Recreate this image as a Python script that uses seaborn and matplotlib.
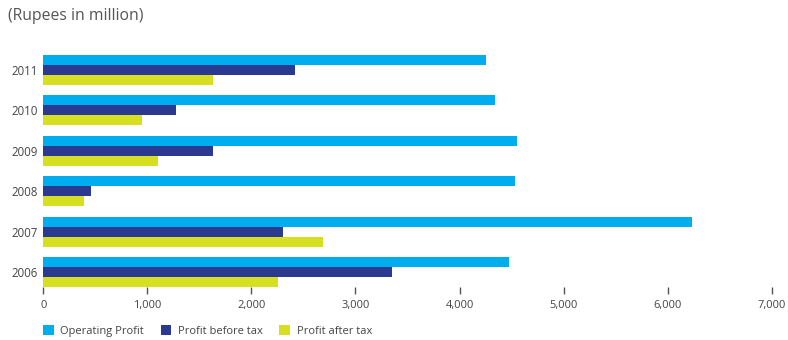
import matplotlib
matplotlib.use("Agg")
import matplotlib.pyplot as plt
from matplotlib.patches import Patch
from matplotlib.ticker import FuncFormatter
import pandas as pd
import seaborn as sns

years = ["2011", "2010", "2009", "2008", "2007", "2006"]
series = ["Operating Profit", "Profit before tax", "Profit after tax"]
operating_profit = [4250, 4345, 4555, 4535, 6230, 4480]
profit_before_tax = [2420, 1275, 1630, 455, 2300, 3350]
profit_after_tax = [1630, 945, 1100, 390, 2685, 2255]
colors = ["#00AEEF", "#2B3990", "#D7DF21"]

df = pd.DataFrame({
    "year": years * 3,
    "series": [s for s in series for _ in years],
    "value": operating_profit + profit_before_tax + profit_after_tax,
})

sns.set_theme(style="white")
plt.rcParams["font.family"] = ["Open Sans", "DejaVu Sans"]

fig = plt.figure(figsize=(7.88, 3.4), dpi=100)
ax = fig.add_axes([0.05495, 0.15588, 0.9244, 0.7119])

sns.barplot(data=df, x="value", y="year", hue="series", order=years,
            hue_order=series, palette=colors, orient="h", width=0.74,
            saturation=1, ax=ax, legend=False, linewidth=0)

ax.set_xlim(0, 7000)
ax.set_ylim(5.371, -0.62)
ax.set_xticks(range(0, 7001, 1000))
ax.xaxis.set_major_formatter(FuncFormatter(lambda v, p: f"{int(v):,}"))
ax.set_xlabel("")
ax.set_ylabel("")
for s in ax.spines.values():
    s.set_visible(False)
ax.tick_params(axis="x", bottom=True, length=5, width=1, color="#555555",
               direction="out", labelsize=8, labelcolor="#444444", pad=4)
ax.tick_params(axis="y", left=False, length=0, labelsize=8.3,
               labelcolor="#444444", pad=4)

fig.text(8 / 788, 1 - 16 / 340, "(Rupees in million)", fontsize=11.3,
         color="#555555", va="center", ha="left")

handles = [Patch(facecolor=c, edgecolor="none", label=s) for c, s in zip(colors, series)]
fig.legend(handles=handles, loc="center left", bbox_to_anchor=(33 / 788, 1 - 331 / 340),
           ncol=3, frameon=False, fontsize=8, handlelength=0.95, handleheight=0.95,
           handletextpad=0.6, columnspacing=1.5, labelcolor="#444444")

fig.savefig("out.png", dpi=100)
